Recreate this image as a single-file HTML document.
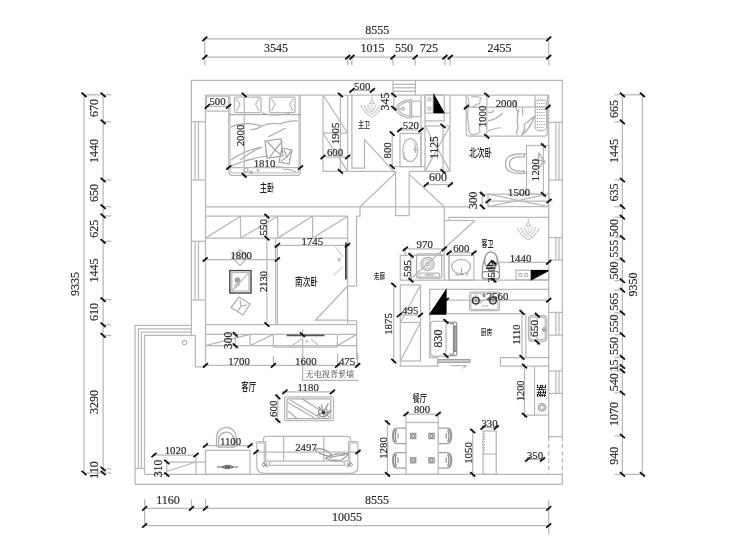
<!DOCTYPE html>
<html lang="zh"><head><meta charset="utf-8"><title>户型平面布置图</title>
<style>
html,body{margin:0;padding:0;background:#fff;}
body{width:740px;height:555px;overflow:hidden;}
svg{display:block;filter:blur(0.3px);}
svg line,svg path,svg rect,svg circle,svg ellipse{fill:none;stroke:#b8b8b8;stroke-width:1.25;}
svg .tk{stroke:#0c0c0c;stroke-width:1.75;}
svg text{stroke:none;}
svg text.n{font-family:"Liberation Serif",serif;fill:#2e2e2e;stroke:#2e2e2e;stroke-width:0.2;}
svg text.c{font-family:"Liberation Sans","Noto Sans CJK SC",sans-serif;fill:#222;font-weight:500;}
svg text.cb{font-family:"Liberation Sans","Noto Sans CJK SC",sans-serif;fill:#111;font-weight:700;}
svg text.c2{font-family:"Liberation Serif","Noto Serif CJK SC",serif;fill:#333;}
</style></head><body>
<svg width="740" height="555" viewBox="0 0 740 555">
<rect x="0" y="0" width="740" height="555" style="fill:#fff;stroke:none"/>
<line x1="204.8" y1="38.9" x2="548.7" y2="38.9"/>
<line x1="204.8" y1="57.2" x2="548.7" y2="57.2"/>
<line x1="204.8" y1="36.5" x2="204.8" y2="65.5"/>
<line x1="548.7" y1="36.5" x2="548.7" y2="65.5"/>
<line x1="347.7" y1="57.2" x2="347.7" y2="65.5"/>
<line x1="351.9" y1="57.2" x2="351.9" y2="65.5"/>
<line x1="392.9" y1="57.2" x2="392.9" y2="65.5"/>
<line x1="415.2" y1="57.2" x2="415.2" y2="65.5"/>
<line x1="444.8" y1="57.2" x2="444.8" y2="65.5"/>
<line x1="450.2" y1="57.2" x2="450.2" y2="65.5"/>
<line x1="144.6" y1="508.4" x2="548.7" y2="508.4"/>
<line x1="144.6" y1="525.5" x2="548.7" y2="525.5"/>
<line x1="144.6" y1="499" x2="144.6" y2="527.5"/>
<line x1="191.5" y1="499" x2="191.5" y2="510"/>
<line x1="205.5" y1="499" x2="205.5" y2="510"/>
<line x1="548.7" y1="500" x2="548.7" y2="534"/>
<line x1="84" y1="94.8" x2="84" y2="473"/>
<line x1="103.1" y1="94.8" x2="103.1" y2="473"/>
<line x1="103.1" y1="94.8" x2="111.3" y2="94.8"/>
<line x1="103.1" y1="121.8" x2="111.3" y2="121.8"/>
<line x1="103.1" y1="180" x2="111.3" y2="180"/>
<line x1="103.1" y1="206.7" x2="111.3" y2="206.7"/>
<line x1="103.1" y1="215.9" x2="111.3" y2="215.9"/>
<line x1="103.1" y1="241.3" x2="111.3" y2="241.3"/>
<line x1="103.1" y1="299.7" x2="111.3" y2="299.7"/>
<line x1="103.1" y1="324.8" x2="111.3" y2="324.8"/>
<line x1="103.1" y1="335.4" x2="111.3" y2="335.4"/>
<line x1="103.1" y1="469" x2="111.3" y2="469"/>
<line x1="103.1" y1="473" x2="111.3" y2="473"/>
<line x1="84" y1="94.8" x2="103.1" y2="94.8"/>
<line x1="84" y1="473" x2="103.1" y2="473"/>
<line x1="622.4" y1="94.8" x2="622.4" y2="474.4"/>
<line x1="642.4" y1="94.8" x2="642.4" y2="474.4"/>
<line x1="614.4" y1="94.8" x2="622.4" y2="94.8"/>
<line x1="614.4" y1="121.9" x2="622.4" y2="121.9"/>
<line x1="614.4" y1="180" x2="622.4" y2="180"/>
<line x1="614.4" y1="206.7" x2="622.4" y2="206.7"/>
<line x1="614.4" y1="217.2" x2="622.4" y2="217.2"/>
<line x1="614.4" y1="237.5" x2="622.4" y2="237.5"/>
<line x1="614.4" y1="259.9" x2="622.4" y2="259.9"/>
<line x1="614.4" y1="280.7" x2="622.4" y2="280.7"/>
<line x1="614.4" y1="290.1" x2="622.4" y2="290.1"/>
<line x1="614.4" y1="312.8" x2="622.4" y2="312.8"/>
<line x1="614.4" y1="334.6" x2="622.4" y2="334.6"/>
<line x1="614.4" y1="357.3" x2="622.4" y2="357.3"/>
<line x1="614.4" y1="366.5" x2="622.4" y2="366.5"/>
<line x1="614.4" y1="370.8" x2="622.4" y2="370.8"/>
<line x1="614.4" y1="393" x2="622.4" y2="393"/>
<line x1="614.4" y1="436" x2="622.4" y2="436"/>
<line x1="614.4" y1="474.4" x2="622.4" y2="474.4"/>
<line x1="622.4" y1="94.8" x2="642.4" y2="94.8"/>
<line x1="622.4" y1="474.4" x2="645" y2="474.4"/>
<path d="M191.4 335.4 L191.4 80.4 L562.3 80.4 L562.3 436.6"/>
<line x1="562.3" y1="436.6" x2="562.3" y2="474.3" stroke-dasharray="4.3 3"/>
<line x1="562.3" y1="474.3" x2="562.3" y2="484.3"/>
<line x1="135.1" y1="484.3" x2="562.3" y2="484.3"/>
<path d="M191.4 325.4 L135.1 325.4 L135.1 484.3"/>
<path d="M191.4 328.8 L138.4 328.8 L138.4 468.5"/>
<path d="M191.4 332.2 L141.4 332.2 L141.4 468.5"/>
<path d="M144.5 474.3 L144.5 335.4 L195.3 335.4 L195.3 366.9 L205.5 366.9"/>
<line x1="144.5" y1="474.3" x2="562.3" y2="474.3"/>
<line x1="135.1" y1="468.5" x2="144.5" y2="468.5"/>
<circle cx="184.5" cy="342.6" r="2.2"/>
<line x1="205.5" y1="95" x2="205.5" y2="366.9"/>
<line x1="191.4" y1="121.7" x2="205.5" y2="121.7"/>
<line x1="191.4" y1="180" x2="205.5" y2="180"/>
<line x1="195" y1="121.7" x2="195" y2="180"/>
<line x1="198.5" y1="121.7" x2="198.5" y2="180"/>
<line x1="191.4" y1="241.3" x2="205.5" y2="241.3"/>
<line x1="191.4" y1="300" x2="205.5" y2="300"/>
<line x1="195" y1="241.3" x2="195" y2="300"/>
<line x1="198.5" y1="241.3" x2="198.5" y2="300"/>
<line x1="205.5" y1="95" x2="347.5" y2="95"/>
<line x1="205.5" y1="206.75" x2="470" y2="206.75"/>
<path d="M205.5 96.2 H228.8 M206.5 96.2 V109.5 Q206.5 111 208.0 111 H227.3 Q228.8 111 228.8 109.5 V95"/>
<line x1="205.5" y1="106.4" x2="231" y2="106.4"/>
<path d="M228.8 95 V172 Q228.8 175.3 232 175.3 H297 Q300.2 175.3 300.2 172 V95"/>
<path d="M230 95 V170.5 Q230 172.8 232.5 172.8 H296.5 Q299 172.8 299 170.5 V95" style="stroke:#c5c5c5"/>
<rect x="234.5" y="97" width="26.5" height="15.5" rx="1"/>
<rect x="269.5" y="97" width="25.5" height="15.5" rx="1"/>
<path d="M236 98.5 L240 104 L236.5 111 M259.5 98.5 L255.5 104 L259 111 M271 98.5 L275 104 L271.5 111 M293.5 98.5 L289.5 104 L293 111" style="stroke:#bababa"/>
<path d="M228.8 114.5 H300.2 M262 112.5 Q270 117 290 113.5 M231 127 Q245 121 262 126 Q270 122 280 124 Q290 120 298 121 M262 126 Q258 129 250 130 M231 160 Q245 150 262 147 Q250 152 240 160 M231 166 Q250 158 268 156 M268 137 Q278 132 286 128" style="stroke:#aeaeae"/>
<path d="M265 141 L281 139 L283 156 L267 158 Z M267 141.5 L275 150 L282.5 141 M275 150 L270 157 M275 150 L281 155 M282 148 L292 150 L289 164 L279 162 Z M284 150 L287 157 L291 151 M287 157 L281 161" style="stroke:#a3a3a3"/>
<path d="M246 168 a2 2 0 1 0 0.1 0 M251 171 a1.2 1.2 0 1 0 0.1 0 M258 169.5 a0.8 0.8 0 1 0 0.1 0" style="stroke:#aeaeae"/>
<path d="M283 170 Q290 168 296 172 M270 168 Q278 165 284 168" style="stroke:#bababa"/>
<line x1="244.2" y1="92.5" x2="244.2" y2="178"/>
<line x1="226" y1="167.5" x2="302.5" y2="167.5"/>
<path d="M323 95 L323 171.4"/>
<line x1="347.6" y1="95" x2="347.6" y2="171.4"/>
<line x1="323" y1="133" x2="347.6" y2="133"/>
<line x1="323" y1="95" x2="347.6" y2="133"/>
<line x1="323" y1="133" x2="347.6" y2="171.4"/>
<line x1="340.4" y1="93" x2="340.4" y2="173"/>
<line x1="321" y1="157" x2="350" y2="157"/>
<line x1="347.6" y1="95" x2="425" y2="95"/>
<path d="M351.9 95 L351.9 168 L364.5 168 L364.5 139.5 L395.3 173.2"/>
<line x1="323" y1="171.4" x2="395.6" y2="171.4"/>
<line x1="350" y1="90.4" x2="375" y2="90.4"/>
<line x1="393" y1="84.3" x2="415.3" y2="84.3"/>
<line x1="393" y1="87.8" x2="415.3" y2="87.8"/>
<line x1="393" y1="91.3" x2="415.3" y2="91.3"/>
<line x1="393" y1="80.4" x2="393" y2="95"/>
<line x1="415.4" y1="80.4" x2="415.4" y2="95"/>
<line x1="393.8" y1="92" x2="393.8" y2="111"/>
<path d="M411.5 99.5 C404 99.5 398 103 394.5 108.7 C398 114.5 404 118 411.5 118 Z"/>
<path d="M410 101.5 C404.5 101.5 400 104.5 397.2 108.7 C400 113 404.5 116 410 116 Z" style="stroke:#bababa"/>
<rect x="411.5" y="101" width="9.5" height="15.5" rx="2"/>
<circle cx="403" cy="108.7" r="1.4"/>
<line x1="394.5" y1="108.7" x2="401.5" y2="108.7"/>
<path d="M371.8 95 V100 M369.40000000000003 103.6 L371.8 99.4 L374.2 103.6 Z M370.8 106 h2 M371.0 108.5 h1.6" style="stroke:#cccccc"/>
<path d="M367.6 104.5 Q368.20000000000005 107.5 368.776 107.44 Q369.49 109.75 370.414 110.1 Q370.6 111.5 371.8 111.5 Q373.0 111.5 373.18600000000004 110.1 Q374.11 109.75 374.824 107.44 Q375.4 107.5 376.0 104.5" style="stroke:#cccccc"/>
<path d="M364.2 104.8 Q364.8 107.8 366.32800000000003 108.74799999999999 Q367.62 111.85 369.29200000000003 112.32 Q370.6 114.2 371.8 114.2 Q373.0 114.2 374.308 112.32 Q375.98 111.85 377.272 108.74799999999999 Q378.8 107.8 379.40000000000003 104.8" style="stroke:#cccccc"/>
<path d="M360.8 105 Q361.40000000000003 108 363.88 110.04 Q365.75 114.0 368.17 114.6 Q370.6 117 371.8 117 Q373.0 117 375.43 114.6 Q377.85 114.0 379.72 110.04 Q382.2 108 382.8 105" style="stroke:#cccccc"/>
<rect x="400" y="133.4" width="21" height="33.2"/>
<ellipse cx="410.3" cy="150" rx="7.5" ry="11.5"/>
<path d="M414 143 q2.5 4 0 8 M417 150 h-3.5 M415.5 147 v6 M405 160 q-2 -3 -1 -8" style="stroke:#bababa"/>
<line x1="398" y1="130" x2="423.5" y2="130"/>
<line x1="392.2" y1="131" x2="392.2" y2="169"/>
<line x1="421" y1="95" x2="421" y2="166.6"/>
<line x1="425" y1="95" x2="425" y2="171.4"/>
<line x1="394.3" y1="166.6" x2="425" y2="166.6"/>
<line x1="409.2" y1="171.4" x2="450" y2="171.4"/>
<path d="M395.6 171.4 L395.6 215.6 L409.2 215.6 L409.2 171.4"/>
<line x1="395.3" y1="173.2" x2="360" y2="206.75"/>
<line x1="409.2" y1="174.4" x2="444.4" y2="206.75"/>
<line x1="425" y1="95" x2="450" y2="95"/>
<rect x="425" y="95" width="19.2" height="18.1"/>
<line x1="433.2" y1="95" x2="433.2" y2="113.1"/>
<line x1="444.2" y1="113.1" x2="450" y2="113.1"/>
<path d="M425 120.9 L444.2 120.9 L444.2 113.1"/>
<path d="M434.1 95.3 L434.1 112.7 L443.8 112.7 Z" style="stroke:#000;fill:#000"/>
<circle cx="429.4" cy="99.5" r="1.7"/>
<circle cx="429.4" cy="108.5" r="1.7"/>
<line x1="425" y1="126" x2="450" y2="126"/>
<line x1="450" y1="95" x2="450" y2="171.4"/>
<line x1="425" y1="126" x2="450" y2="171.4"/>
<line x1="450" y1="126" x2="425" y2="171.4"/>
<line x1="443" y1="124" x2="443" y2="173.5"/>
<line x1="424" y1="184.6" x2="453" y2="184.6"/>
<line x1="450" y1="95" x2="548.7" y2="95"/>
<line x1="548.7" y1="95" x2="548.7" y2="436.6"/>
<path d="M466.2 95 V133.5 Q466.2 136.1 469 136.1 H544.5 Q547.3 136.1 547.3 133.3 V95"/>
<line x1="535" y1="95" x2="535" y2="107.2"/>
<path d="M467.5 96.5 Q470 100 468.2 108 Q466.8 118 469 126 Q468 131 471 134.5 Q476 135.3 480 132 Q478 126 481.5 120 M471 97 Q476 96 481 98 Q479 101 480 104.5 M473 108 Q476 103 480 104" style="stroke:#bababa"/>
<path d="M487.5 112 Q492 114 494 110 M488 121 Q496 119.5 503 113 M488 131 Q494 128.5 500.5 127.5 M514 100 Q517 104 516 108 Q519 112 517 116 M518.5 110 Q516.5 120 518 128 Q516 132 517 134.5 M522.3 108 Q523 112 522.5 115.5 M535 115 Q531 128 520.8 136 M524 124.5 Q528 122 533.5 117 M524 124.5 Q526 130 522 134" style="stroke:#aeaeae"/>
<rect x="535.2" y="100" width="11.4" height="30.5" rx="3.8"/>
<path d="M537 103.5 h8 M537 106.5 h8 M537 109.5 h8 M537 112.5 h8 M537 115.5 h8 M537 118.5 h8 M537 121.5 h8 M537 124.5 h8 M537 127.5 h7" style="stroke:#888;stroke-width:1" stroke-dasharray="1 1.2"/>
<line x1="464" y1="107.2" x2="551" y2="107.2"/>
<line x1="486.8" y1="93" x2="486.8" y2="138.5"/>
<rect x="526.5" y="145.5" width="22.2" height="48.9"/>
<path d="M526.5 154 H524.5 Q505.5 152.5 505.5 164 Q505.5 175 524.5 173.2 H526.5 M524.5 157 Q509.6 155.5 509.6 164 Q509.6 172.5 524.5 171 M524.3 154 V157 M524.3 171 V173.2" style="stroke:#a9a9a9"/>
<path d="M535.5 160.3 H543.6 M538.7 152.5 L543.6 160.3 L538.7 169 M538.7 152.5 V169" style="stroke:#aeaeae"/>
<circle cx="543.8" cy="161.8" r="1.3" style="stroke:#aeaeae"/>
<line x1="543.4" y1="143" x2="543.4" y2="197"/>
<rect x="488" y="194.2" width="60.7" height="12.4"/>
<line x1="488" y1="194.2" x2="548.7" y2="206.6"/>
<line x1="488" y1="206.6" x2="548.7" y2="194.2"/>
<line x1="485" y1="201" x2="552.5" y2="201"/>
<line x1="482.3" y1="191.5" x2="482.3" y2="209.5"/>
<line x1="480" y1="194.2" x2="488" y2="194.2"/>
<line x1="548.7" y1="122.3" x2="562.3" y2="122.3"/>
<line x1="548.7" y1="180" x2="562.3" y2="180"/>
<line x1="555.9" y1="122.3" x2="555.9" y2="180"/>
<line x1="559" y1="122.3" x2="559" y2="180"/>
<line x1="205.5" y1="216.2" x2="347.6" y2="216.2"/>
<line x1="205.5" y1="238.1" x2="347.6" y2="238.1"/>
<line x1="240.5" y1="216.2" x2="240.5" y2="238.1"/>
<line x1="277.7" y1="216.2" x2="277.7" y2="238.1"/>
<line x1="312.6" y1="216.2" x2="312.6" y2="238.1"/>
<line x1="205.5" y1="238.1" x2="240.5" y2="216.2"/>
<line x1="240.5" y1="238.1" x2="277.7" y2="216.2"/>
<line x1="277.7" y1="238.1" x2="312.6" y2="216.2"/>
<line x1="312.6" y1="238.1" x2="347.6" y2="216.2"/>
<line x1="347.6" y1="216.2" x2="347.6" y2="324.5"/>
<path d="M360 206.75 L360 216.2 L356.5 216.2 L356.5 286 L347.6 286"/>
<line x1="205.5" y1="324.5" x2="347.6" y2="324.5"/>
<line x1="266.9" y1="214.2" x2="266.9" y2="326.5"/>
<line x1="275.6" y1="238.1" x2="275.6" y2="324.5"/>
<line x1="277.4" y1="245.3" x2="277.4" y2="324.5"/>
<line x1="273.5" y1="245.3" x2="350.5" y2="245.3"/>
<line x1="202.5" y1="259.5" x2="280.5" y2="259.5"/>
<rect x="229.8" y="270.6" width="21.2" height="22.4" style="stroke:#444;stroke-width:1.4"/>
<rect x="231.8" y="272.6" width="17.2" height="18.4" style="stroke:#bababa"/>
<line x1="231.8" y1="291" x2="249" y2="272.6" style="stroke:#bababa"/>
<circle cx="237.5" cy="280" r="2.2" style="stroke:#979797"/>
<circle cx="237.5" cy="280" r="0.8" style="stroke:#979797"/>
<path d="M234 286 l5 -4 M235 288 l5 -4" style="stroke:#bababa"/>
<path d="M240 249.5 L248 257.5 L240 265.5 L232 257.5 Z M236 253.5 L240 259 L244 253.5" style="stroke:#bababa"/>
<path d="M239 297 L250 304 L243 315 L231 307.5 Z M240 300 L241 306 L247 305 M241 306 L238 311" style="stroke:#aeaeae"/>
<line x1="345.9" y1="242.5" x2="345.9" y2="279.5" style="stroke:#444;stroke-width:1.8"/>
<path d="M334.5 245.5 L343 257 M343 266.6 L333.2 275.5" style="stroke:#d1d1d1"/>
<path d="M338.2 258 v2 q0 1 1 1 q1 0 1 -1 v-2" style="stroke:#777;stroke-width:0.7"/>
<path d="M347.6 286 L315.4 320.2 L347.6 320.2"/>
<line x1="205.5" y1="334.4" x2="356.7" y2="334.4"/>
<line x1="205.5" y1="345.6" x2="356.7" y2="345.6"/>
<line x1="356.7" y1="320.8" x2="356.7" y2="360"/>
<line x1="347.6" y1="320.8" x2="356.7" y2="320.8"/>
<line x1="347.6" y1="324.5" x2="356.7" y2="324.5"/>
<line x1="250" y1="334.4" x2="250" y2="345.6"/>
<line x1="273.4" y1="334.4" x2="273.4" y2="347.2"/>
<line x1="337.4" y1="334.4" x2="337.4" y2="347.2"/>
<line x1="273.4" y1="347.2" x2="337.4" y2="347.2"/>
<line x1="205.5" y1="345.6" x2="250" y2="334.4"/>
<line x1="250" y1="345.6" x2="273.4" y2="334.4"/>
<line x1="337.4" y1="345.6" x2="356.7" y2="334.4"/>
<line x1="286.6" y1="335.4" x2="324.5" y2="335.4" style="stroke:#555;stroke-width:1.9"/>
<path d="M290 347 L301.5 339 M311 339 L320.4 347" style="stroke:#c5c5c5"/>
<path d="M306 340 v1.6 q0 0.8 0.8 0.8 q0.8 0 0.8 -0.8 v-1.6" style="stroke:#888;stroke-width:0.6"/>
<line x1="235.3" y1="332" x2="235.3" y2="349"/>
<line x1="203" y1="365.4" x2="360.5" y2="365.4"/>
<line x1="273.4" y1="356" x2="273.4" y2="367"/>
<line x1="337.6" y1="353" x2="337.6" y2="367"/>
<line x1="357.6" y1="353" x2="357.6" y2="367"/>
<path d="M302.6 329 L302.6 380.3 L358.5 380.3"/>
<rect x="284.6" y="396.9" width="48.9" height="23.6" rx="1.2"/>
<rect x="286.9" y="398.9" width="43.9" height="19.6" rx="0.5" style="stroke:#aeaeae"/>
<path d="M287.6 402.3 L316.6 419.2 M290.3 400.3 L320 417.8 M302.4 398.9 L321.4 411 M288.2 411 L297 418.5" style="stroke:#aeaeae"/>
<path d="M323.4 412.4 l5 -9 M323.4 412.4 l7.5 -1 M323.4 412.4 l-5 -6 M323.4 412.4 l-6.5 3 M323.4 412.4 l1 6.5 M323.4 412.4 l6 4.5 M323.4 412.4 l-2 -8 M320 409 a4.5 4.5 0 1 0 6 0 M326 415 q3 -1 4 -5" style="stroke:#979797"/>
<circle cx="323.4" cy="412.4" r="1.1" style="stroke:#222;stroke-width:1.2"/>
<line x1="282" y1="391.9" x2="335" y2="391.9"/>
<line x1="277.8" y1="394" x2="277.8" y2="423.5"/>
<path d="M216.5 447 V437.2 A9.8 9.8 0 0 1 236.1 437.2 V447 M218.6 447 V439.9 A7.7 7.7 0 0 1 234 439.9 V447 M217.5 447 H235" style="stroke:#aeaeae"/>
<rect x="205.5" y="450.3" width="44.5" height="24.0"/>
<line x1="203" y1="445.5" x2="253" y2="445.5"/>
<path d="M217 467 H238 M222 467 Q227.5 463.5 233 467 Q227.5 470.5 222 467 Z M225 467 Q227.5 465.3 230 467 Q227.5 468.7 225 467" style="stroke:#444;stroke-width:0.8"/>
<path d="M166.5 462 L205.5 462"/>
<line x1="196" y1="455" x2="196" y2="474.3"/>
<line x1="166.5" y1="471.5" x2="196" y2="462"/>
<line x1="152" y1="455" x2="198.5" y2="455"/>
<line x1="166.8" y1="459.5" x2="166.8" y2="477"/>
<path d="M263.5 441.7 V439 Q263.5 436.4 266 436.4 H348 Q350.5 436.4 350.5 439 V441.7"/>
<line x1="283.6" y1="436.4" x2="283.6" y2="461"/>
<line x1="323.8" y1="436.4" x2="323.8" y2="461"/>
<path d="M256.8 441.7 H265.7 V462.3 M357.8 441.7 H348.6 V462.3 M256.8 441.7 V466 Q256.8 473.4 264.5 473.4 H350 Q357.8 473.4 357.8 466 V441.7"/>
<path d="M258.3 443 H264.3 V462 M356.3 443 H350 V462" style="stroke:#c5c5c5"/>
<path d="M265.7 461 H271 M348.6 461 H343.5 M269 465.3 Q269.5 461 273 461 H341 Q344.5 461 345 465.3 Z M265.7 462.3 Q262 462.3 262 466 M348.6 462.3 Q352.5 462.3 352.5 466"/>
<path d="M263 466.5 l4.5 -3 M263.5 462.5 l4 4.5 M351.5 466.5 l-4.5 -3 M351 462.5 l-4 4.5" style="stroke:#979797"/>
<path d="M314.5 449.3 Q322 447.5 328 451.5 Q331 454 331.5 456 Q325 456.5 320 453.5 Q316 451 314.5 449.3 M325.4 458.5 Q333 453.5 341 454 Q345.5 453.5 348 453.8 Q346 458 341 460 Q333 461.5 325.4 458.5 M329 458 Q336 455.5 345 455" style="stroke:#979797"/>
<line x1="254" y1="452" x2="360.5" y2="452"/>
<line x1="444.3" y1="206.75" x2="444.3" y2="255.3"/>
<rect x="400.3" y="255.3" width="44.0" height="24.9"/>
<rect x="416.6" y="253.8" width="25.2" height="24.2" rx="2" style="stroke:#aeaeae"/>
<circle cx="427.5" cy="264" r="6.6" style="stroke:#aeaeae"/>
<circle cx="427.5" cy="264" r="4.6" style="stroke:#bababa"/>
<circle cx="427.5" cy="264" r="2" style="stroke:#bababa"/>
<rect x="419" y="273" width="20.5" height="4" rx="1" style="stroke:#bababa"/>
<line x1="425" y1="275" x2="434" y2="275" style="stroke:#a3a3a3"/>
<line x1="403" y1="248.8" x2="447" y2="248.8"/>
<line x1="411" y1="253" x2="411" y2="282.5"/>
<line x1="405.3" y1="248.8" x2="405.3" y2="255.3"/>
<line x1="449" y1="217.3" x2="548.7" y2="217.3"/>
<line x1="449" y1="217.3" x2="449" y2="220.5"/>
<line x1="444.3" y1="220.5" x2="475" y2="220.5"/>
<line x1="475" y1="220.5" x2="410" y2="279.5"/>
<line x1="449" y1="252.8" x2="449" y2="280.2"/>
<line x1="444.3" y1="280.2" x2="548.7" y2="280.2"/>
<rect x="449" y="255.3" width="24.9" height="24.9"/>
<ellipse cx="461.2" cy="266.6" rx="9.4" ry="7.3"/>
<path d="M461.5 268 v6.5 M459 274.5 h5 M466 275.5 l2 -2.5 M455.5 274 q1.5 2.5 3 0" style="stroke:#aeaeae"/>
<line x1="447" y1="252.8" x2="476.5" y2="252.8"/>
<ellipse cx="491" cy="260.5" rx="6.4" ry="8.6" style="stroke:#8b8b8b"/>
<path d="M484.8 258 Q482.3 264 482.3 271.8 M497.2 258 Q499.5 264 499.5 271.8" style="stroke:#979797"/>
<rect x="482.2" y="271.6" width="17.2" height="7.2" rx="2.2" style="stroke:#8b8b8b"/>
<path d="M487.5 265.5 l3.5 -4 l3.5 4 Z M486 268.3 h9.5" style="stroke:#222;stroke-width:1.3"/>
<line x1="493.8" y1="260" x2="493.8" y2="283"/>
<line x1="493.8" y1="262.3" x2="551" y2="262.3"/>
<path d="M528.3 217.6 V222.6 M525.9 226.2 L528.3 222.0 L530.6999999999999 226.2 Z M527.3 228.6 h2 M527.5 231.1 h1.6" style="stroke:#cccccc"/>
<path d="M524.0999999999999 227.1 Q524.6999999999999 230.1 525.276 230.04 Q525.99 232.35 526.914 232.7 Q527.0999999999999 234.1 528.3 234.1 Q529.5 234.1 529.6859999999999 232.7 Q530.6099999999999 232.35 531.324 230.04 Q531.9 230.1 532.5 227.1" style="stroke:#cccccc"/>
<path d="M520.6999999999999 227.4 Q521.3 230.4 522.828 231.348 Q524.12 234.45000000000002 525.7919999999999 234.92000000000002 Q527.0999999999999 236.79999999999998 528.3 236.79999999999998 Q529.5 236.79999999999998 530.808 234.92000000000002 Q532.4799999999999 234.45000000000002 533.7719999999999 231.348 Q535.3 230.4 535.9 227.4" style="stroke:#cccccc"/>
<path d="M517.3 227.6 Q517.9 230.6 520.38 232.64 Q522.25 236.6 524.67 237.2 Q527.0999999999999 239.6 528.3 239.6 Q529.5 239.6 531.93 237.2 Q534.3499999999999 236.6 536.2199999999999 232.64 Q538.6999999999999 230.6 539.3 227.6" style="stroke:#cccccc"/>
<rect x="516" y="270.3" width="32.7" height="9.5"/>
<path d="M531.3 270.6 L548.2 270.6 L531.3 279.6 Z" style="stroke:#000;fill:#000"/>
<circle cx="520.3" cy="275" r="1.6"/>
<circle cx="526.2" cy="275" r="1.6"/>
<line x1="548.7" y1="237.5" x2="562.3" y2="237.5"/>
<line x1="548.7" y1="260" x2="562.3" y2="260"/>
<line x1="555.9" y1="237.5" x2="555.9" y2="260"/>
<line x1="559" y1="237.5" x2="559" y2="260"/>
<path d="M548.7 289.4 L429.7 289.4 L429.7 357.5 L437.8 357.5"/>
<path d="M446 290.3 L446 314 L430 314 Z" style="stroke:#000;fill:#000"/>
<line x1="446" y1="300.2" x2="550.7" y2="300.2"/>
<line x1="446" y1="313.5" x2="525.8" y2="313.5"/>
<line x1="525.8" y1="313.5" x2="525.8" y2="357.4" style="stroke:#bababa"/>
<rect x="469.5" y="292.2" width="30.0" height="18.3" rx="2"/>
<rect x="471" y="293.5" width="27" height="15.8" rx="1.5" style="stroke:#c5c5c5"/>
<circle cx="475.8" cy="300.6" r="3.3" style="stroke:#333;stroke-width:1.5"/>
<circle cx="493" cy="300.6" r="3.3" style="stroke:#333;stroke-width:1.5"/>
<circle cx="475.8" cy="300.6" r="1" style="stroke:#979797"/>
<circle cx="493" cy="300.6" r="1" style="stroke:#979797"/>
<path d="M472 300.6 h-1 M480 300.6 h1 M475.8 296 v-0.8 M475.8 305 v0.8 M489 300.6 h-1 M497 300.6 h1" style="stroke:#8b8b8b"/>
<path d="M482.5 306 h0.9 M484.6 306 h0.9 M486.7 306 h0.9" style="stroke:#333;stroke-width:1"/>
<circle cx="484" cy="295.4" r="1.1" style="stroke:#808080"/>
<path d="M479 304 L489 297" style="stroke:#c5c5c5"/>
<path d="M446 321.3 H433.5 Q430.7 321.3 430.7 324.3 V353.3 Q430.7 356.2 433.5 356.2 H446"/>
<path d="M446 322 H455 Q456.8 322 456.8 324 V353.5 Q456.8 355.5 455 355.5 H446 M449.5 323.5 H453.5 V354 H449.5" style="stroke:#979797"/>
<path d="M454.3 326 h1.6 v25.5 h-1.6 Z" style="stroke:#666;stroke-width:0.9"/>
<line x1="446" y1="319" x2="446" y2="358.5"/>
<rect x="437.8" y="359.6" width="32.2" height="2.8" style="stroke:#999;stroke-width:1;fill:#ccc"/>
<path d="M450.5 365.5 H466 l-3 2.7" style="stroke:#bababa"/>
<rect x="400.3" y="285" width="20.2" height="76"/>
<line x1="400.3" y1="322.5" x2="420.5" y2="322.5"/>
<line x1="420.5" y1="285" x2="400.3" y2="322.5"/>
<line x1="420.5" y1="322.5" x2="400.3" y2="361"/>
<line x1="398" y1="315" x2="423" y2="315"/>
<line x1="393.7" y1="282.5" x2="393.7" y2="363.5"/>
<path d="M400.3 361 L400.3 366 L437.8 366 L437.8 357.5"/>
<rect x="528.5" y="315.5" width="18.3" height="25.8" rx="3"/>
<rect x="530.1" y="317.2" width="15.1" height="22.4" rx="2.2" style="stroke:#bababa"/>
<path d="M544 326.5 v5 M541.8 328.5 l2.2 3 l2.2 -3" style="stroke:#979797"/>
<line x1="537.3" y1="312.5" x2="537.3" y2="345"/>
<line x1="522" y1="309.5" x2="522" y2="360"/>
<line x1="548.7" y1="312.4" x2="562.3" y2="312.4"/>
<line x1="548.7" y1="335.1" x2="562.3" y2="335.1"/>
<line x1="555.9" y1="312.4" x2="555.9" y2="335.1"/>
<line x1="559" y1="312.4" x2="559" y2="335.1"/>
<path d="M522.3 357.5 L500.4 357.5 L500.4 366 L548.7 366"/>
<line x1="522.3" y1="357.5" x2="548.7" y2="357.5"/>
<path d="M534.5 366.1 L534.5 415.2 L548.7 415.2"/>
<line x1="524.5" y1="363.5" x2="524.5" y2="418"/>
<line x1="524.5" y1="415.2" x2="534.5" y2="415.2"/>
<line x1="548.7" y1="371" x2="562.3" y2="371"/>
<line x1="548.7" y1="393.4" x2="562.3" y2="393.4"/>
<line x1="555.9" y1="371" x2="555.9" y2="393.4"/>
<line x1="559" y1="371" x2="559" y2="393.4"/>
<circle cx="542" cy="407.4" r="3.8" style="stroke:#a3a3a3"/>
<circle cx="542" cy="407.4" r="2.2" style="stroke:#aeaeae"/>
<line x1="548.7" y1="436.6" x2="562.3" y2="436.6"/>
<line x1="548.7" y1="436.6" x2="548.7" y2="474.3" stroke-dasharray="4.3 3"/>
<line x1="525.5" y1="459.5" x2="545" y2="459.5"/>
<rect x="406" y="422.5" width="32.2" height="51.8"/>
<line x1="404" y1="414" x2="441" y2="414"/>
<line x1="406" y1="414" x2="406" y2="422.5"/>
<line x1="438.2" y1="414" x2="438.2" y2="422.5"/>
<line x1="387.5" y1="420" x2="387.5" y2="477"/>
<rect x="410.59999999999997" y="433.4" width="5.2" height="5.2" style="stroke:#979797"/>
<circle cx="413.2" cy="436" r="1.5" style="stroke:#8b8b8b"/>
<rect x="428.9" y="433.4" width="5.2" height="5.2" style="stroke:#979797"/>
<circle cx="431.5" cy="436" r="1.5" style="stroke:#8b8b8b"/>
<rect x="410.59999999999997" y="457.7" width="5.2" height="5.2" style="stroke:#979797"/>
<circle cx="413.2" cy="460.3" r="1.5" style="stroke:#8b8b8b"/>
<rect x="428.9" y="457.7" width="5.2" height="5.2" style="stroke:#979797"/>
<circle cx="431.5" cy="460.3" r="1.5" style="stroke:#8b8b8b"/>
<path d="M406 428 H397 Q392.5 428 392.5 435.8 Q392.5 443.6 397 443.6 H406" style="stroke:#a3a3a3"/>
<path d="M396.5 429.5 Q394 435.8 396.5 442.1 M395.2 428.8 Q391.2 435.8 395.2 442.8" style="stroke:#8b8b8b"/>
<path d="M398 433 v5.6" style="stroke:#979797"/>
<path d="M406 452.5 H397 Q392.5 452.5 392.5 460.3 Q392.5 468.1 397 468.1 H406" style="stroke:#a3a3a3"/>
<path d="M396.5 454.0 Q394 460.3 396.5 466.6 M395.2 453.3 Q391.2 460.3 395.2 467.3" style="stroke:#8b8b8b"/>
<path d="M398 457.5 v5.6" style="stroke:#979797"/>
<path d="M438.2 428 H447.2 Q451.7 428 451.7 435.8 Q451.7 443.6 447.2 443.6 H438.2" style="stroke:#a3a3a3"/>
<path d="M447.7 429.5 Q450.2 435.8 447.7 442.1 M449.0 428.8 Q453.0 435.8 449.0 442.8" style="stroke:#8b8b8b"/>
<path d="M446.2 433 v5.6" style="stroke:#979797"/>
<path d="M438.2 452.5 H447.2 Q451.7 452.5 451.7 460.3 Q451.7 468.1 447.2 468.1 H438.2" style="stroke:#a3a3a3"/>
<path d="M447.7 454.0 Q450.2 460.3 447.7 466.6 M449.0 453.3 Q453.0 460.3 449.0 467.3" style="stroke:#8b8b8b"/>
<path d="M446.2 457.5 v5.6" style="stroke:#979797"/>
<rect x="483" y="431" width="13.2" height="43.3"/>
<line x1="483" y1="454" x2="496.2" y2="454"/>
<path d="M484.5 433 V452" style="stroke:#aeaeae" stroke-dasharray="1.4 1.4" stroke-width="1.6"/>
<line x1="481" y1="427.5" x2="499" y2="427.5"/>
<line x1="472.7" y1="428.5" x2="472.7" y2="477"/>
<line class="tk" x1="202.3" y1="41.1" x2="207.3" y2="36.7"/>
<line class="tk" x1="546.2" y1="41.1" x2="551.2" y2="36.7"/>
<line class="tk" x1="202.3" y1="59.4" x2="207.3" y2="55.0"/>
<line class="tk" x1="345.2" y1="59.4" x2="350.2" y2="55.0"/>
<line class="tk" x1="349.4" y1="59.4" x2="354.4" y2="55.0"/>
<line class="tk" x1="390.4" y1="59.4" x2="395.4" y2="55.0"/>
<line class="tk" x1="412.7" y1="59.4" x2="417.7" y2="55.0"/>
<line class="tk" x1="442.3" y1="59.4" x2="447.3" y2="55.0"/>
<line class="tk" x1="447.7" y1="59.4" x2="452.7" y2="55.0"/>
<line class="tk" x1="546.2" y1="59.4" x2="551.2" y2="55.0"/>
<line class="tk" x1="142.1" y1="510.6" x2="147.1" y2="506.2"/>
<line class="tk" x1="189.0" y1="510.6" x2="194.0" y2="506.2"/>
<line class="tk" x1="203.0" y1="510.6" x2="208.0" y2="506.2"/>
<line class="tk" x1="546.2" y1="510.6" x2="551.2" y2="506.2"/>
<line class="tk" x1="142.1" y1="527.7" x2="147.1" y2="523.3"/>
<line class="tk" x1="546.2" y1="527.7" x2="551.2" y2="523.3"/>
<line class="tk" x1="81.5" y1="92.6" x2="86.5" y2="97.0"/>
<line class="tk" x1="81.5" y1="470.8" x2="86.5" y2="475.2"/>
<line class="tk" x1="100.6" y1="92.6" x2="105.6" y2="97.0"/>
<line class="tk" x1="100.6" y1="119.6" x2="105.6" y2="124.0"/>
<line class="tk" x1="100.6" y1="177.8" x2="105.6" y2="182.2"/>
<line class="tk" x1="100.6" y1="204.5" x2="105.6" y2="208.9"/>
<line class="tk" x1="100.6" y1="213.7" x2="105.6" y2="218.1"/>
<line class="tk" x1="100.6" y1="239.1" x2="105.6" y2="243.5"/>
<line class="tk" x1="100.6" y1="297.5" x2="105.6" y2="301.9"/>
<line class="tk" x1="100.6" y1="322.6" x2="105.6" y2="327.0"/>
<line class="tk" x1="100.6" y1="333.2" x2="105.6" y2="337.6"/>
<line class="tk" x1="100.6" y1="466.8" x2="105.6" y2="471.2"/>
<line class="tk" x1="100.6" y1="470.8" x2="105.6" y2="475.2"/>
<line class="tk" x1="639.9" y1="92.6" x2="644.9" y2="97.0"/>
<line class="tk" x1="639.9" y1="472.2" x2="644.9" y2="476.6"/>
<line class="tk" x1="619.9" y1="92.6" x2="624.9" y2="97.0"/>
<line class="tk" x1="619.9" y1="119.7" x2="624.9" y2="124.1"/>
<line class="tk" x1="619.9" y1="177.8" x2="624.9" y2="182.2"/>
<line class="tk" x1="619.9" y1="204.5" x2="624.9" y2="208.9"/>
<line class="tk" x1="619.9" y1="215.0" x2="624.9" y2="219.4"/>
<line class="tk" x1="619.9" y1="235.3" x2="624.9" y2="239.7"/>
<line class="tk" x1="619.9" y1="257.7" x2="624.9" y2="262.1"/>
<line class="tk" x1="619.9" y1="278.5" x2="624.9" y2="282.9"/>
<line class="tk" x1="619.9" y1="287.9" x2="624.9" y2="292.3"/>
<line class="tk" x1="619.9" y1="310.6" x2="624.9" y2="315.0"/>
<line class="tk" x1="619.9" y1="332.4" x2="624.9" y2="336.8"/>
<line class="tk" x1="619.9" y1="355.1" x2="624.9" y2="359.5"/>
<line class="tk" x1="619.9" y1="364.3" x2="624.9" y2="368.7"/>
<line class="tk" x1="619.9" y1="368.6" x2="624.9" y2="373.0"/>
<line class="tk" x1="619.9" y1="390.8" x2="624.9" y2="395.2"/>
<line class="tk" x1="619.9" y1="433.8" x2="624.9" y2="438.2"/>
<line class="tk" x1="619.9" y1="472.2" x2="624.9" y2="476.6"/>
<line class="tk" x1="204.8" y1="108.6" x2="209.8" y2="104.2"/>
<line class="tk" x1="226.0" y1="108.6" x2="231.0" y2="104.2"/>
<line class="tk" x1="241.7" y1="92.8" x2="246.7" y2="97.2"/>
<line class="tk" x1="241.7" y1="173.1" x2="246.7" y2="177.5"/>
<line class="tk" x1="226.3" y1="169.7" x2="231.3" y2="165.3"/>
<line class="tk" x1="298.0" y1="169.7" x2="303.0" y2="165.3"/>
<line class="tk" x1="337.9" y1="92.8" x2="342.9" y2="97.2"/>
<line class="tk" x1="337.9" y1="169.2" x2="342.9" y2="173.6"/>
<line class="tk" x1="320.5" y1="159.2" x2="325.5" y2="154.8"/>
<line class="tk" x1="345.1" y1="159.2" x2="350.1" y2="154.8"/>
<line class="tk" x1="349.4" y1="92.6" x2="354.4" y2="88.2"/>
<line class="tk" x1="369.9" y1="92.6" x2="374.9" y2="88.2"/>
<line class="tk" x1="391.3" y1="92.8" x2="396.3" y2="97.2"/>
<line class="tk" x1="391.3" y1="106.0" x2="396.3" y2="110.4"/>
<line class="tk" x1="397.2" y1="132.2" x2="402.2" y2="127.8"/>
<line class="tk" x1="418.5" y1="132.2" x2="423.5" y2="127.8"/>
<line class="tk" x1="389.7" y1="131.4" x2="394.7" y2="135.8"/>
<line class="tk" x1="389.7" y1="164.4" x2="394.7" y2="168.8"/>
<line class="tk" x1="440.5" y1="123.8" x2="445.5" y2="128.2"/>
<line class="tk" x1="440.5" y1="169.2" x2="445.5" y2="173.6"/>
<line class="tk" x1="423.7" y1="186.8" x2="428.7" y2="182.4"/>
<line class="tk" x1="447.8" y1="186.8" x2="452.8" y2="182.4"/>
<line class="tk" x1="463.9" y1="109.4" x2="468.9" y2="105.0"/>
<line class="tk" x1="545.5" y1="109.4" x2="550.5" y2="105.0"/>
<line class="tk" x1="484.3" y1="92.8" x2="489.3" y2="97.2"/>
<line class="tk" x1="484.3" y1="134.1" x2="489.3" y2="138.5"/>
<line class="tk" x1="540.9" y1="143.3" x2="545.9" y2="147.7"/>
<line class="tk" x1="540.9" y1="192.2" x2="545.9" y2="196.6"/>
<line class="tk" x1="485.7" y1="203.2" x2="490.7" y2="198.8"/>
<line class="tk" x1="546.5" y1="203.2" x2="551.5" y2="198.8"/>
<line class="tk" x1="479.8" y1="192.0" x2="484.8" y2="196.4"/>
<line class="tk" x1="479.8" y1="204.6" x2="484.8" y2="209.0"/>
<line class="tk" x1="264.4" y1="214.0" x2="269.4" y2="218.4"/>
<line class="tk" x1="264.4" y1="235.9" x2="269.4" y2="240.3"/>
<line class="tk" x1="264.4" y1="322.3" x2="269.4" y2="326.7"/>
<line class="tk" x1="274.9" y1="247.5" x2="279.9" y2="243.1"/>
<line class="tk" x1="344.9" y1="247.5" x2="349.9" y2="243.1"/>
<line class="tk" x1="202.7" y1="261.7" x2="207.7" y2="257.3"/>
<line class="tk" x1="274.8" y1="261.7" x2="279.8" y2="257.3"/>
<line class="tk" x1="232.8" y1="332.2" x2="237.8" y2="336.6"/>
<line class="tk" x1="232.8" y1="343.4" x2="237.8" y2="347.8"/>
<line class="tk" x1="203.0" y1="367.6" x2="208.0" y2="363.2"/>
<line class="tk" x1="270.9" y1="367.6" x2="275.9" y2="363.2"/>
<line class="tk" x1="335.1" y1="367.6" x2="340.1" y2="363.2"/>
<line class="tk" x1="355.1" y1="367.6" x2="360.1" y2="363.2"/>
<line class="tk" x1="299.9" y1="332.4" x2="304.9" y2="336.8"/>
<line class="tk" x1="282.4" y1="394.1" x2="287.4" y2="389.7"/>
<line class="tk" x1="329.9" y1="394.1" x2="334.9" y2="389.7"/>
<line class="tk" x1="275.3" y1="394.7" x2="280.3" y2="399.1"/>
<line class="tk" x1="275.3" y1="418.3" x2="280.3" y2="422.7"/>
<line class="tk" x1="203.0" y1="447.7" x2="208.0" y2="443.3"/>
<line class="tk" x1="247.5" y1="447.7" x2="252.5" y2="443.3"/>
<line class="tk" x1="151.5" y1="457.2" x2="156.5" y2="452.8"/>
<line class="tk" x1="193.5" y1="457.2" x2="198.5" y2="452.8"/>
<line class="tk" x1="164.3" y1="459.8" x2="169.3" y2="464.2"/>
<line class="tk" x1="164.3" y1="472.3" x2="169.3" y2="476.7"/>
<line class="tk" x1="253.5" y1="454.2" x2="258.5" y2="449.8"/>
<line class="tk" x1="355.5" y1="454.2" x2="360.5" y2="449.8"/>
<line class="tk" x1="402.8" y1="251.0" x2="407.8" y2="246.6"/>
<line class="tk" x1="441.8" y1="251.0" x2="446.8" y2="246.6"/>
<line class="tk" x1="408.5" y1="253.1" x2="413.5" y2="257.5"/>
<line class="tk" x1="408.5" y1="278.0" x2="413.5" y2="282.4"/>
<line class="tk" x1="446.5" y1="255.0" x2="451.5" y2="250.6"/>
<line class="tk" x1="471.4" y1="255.0" x2="476.4" y2="250.6"/>
<line class="tk" x1="491.3" y1="260.1" x2="496.3" y2="264.5"/>
<line class="tk" x1="491.3" y1="278.0" x2="496.3" y2="282.4"/>
<line class="tk" x1="546.2" y1="264.5" x2="551.2" y2="260.1"/>
<line class="tk" x1="546.2" y1="302.4" x2="551.2" y2="298.0"/>
<line class="tk" x1="443.8" y1="302.4" x2="448.8" y2="298.0"/>
<line class="tk" x1="443.5" y1="319.1" x2="448.5" y2="323.5"/>
<line class="tk" x1="443.5" y1="353.4" x2="448.5" y2="357.8"/>
<line class="tk" x1="396.9" y1="317.2" x2="401.9" y2="312.8"/>
<line class="tk" x1="418.0" y1="317.2" x2="423.0" y2="312.8"/>
<line class="tk" x1="391.2" y1="282.8" x2="396.2" y2="287.2"/>
<line class="tk" x1="391.2" y1="358.8" x2="396.2" y2="363.2"/>
<line class="tk" x1="534.8" y1="313.0" x2="539.8" y2="317.4"/>
<line class="tk" x1="534.8" y1="339.9" x2="539.8" y2="344.3"/>
<line class="tk" x1="519.5" y1="310.2" x2="524.5" y2="314.6"/>
<line class="tk" x1="519.5" y1="355.2" x2="524.5" y2="359.6"/>
<line class="tk" x1="522.0" y1="363.9" x2="527.0" y2="368.3"/>
<line class="tk" x1="522.0" y1="413.0" x2="527.0" y2="417.4"/>
<line class="tk" x1="525.1" y1="461.7" x2="530.1" y2="457.3"/>
<line class="tk" x1="540.0" y1="461.7" x2="545.0" y2="457.3"/>
<line class="tk" x1="403.5" y1="416.2" x2="408.5" y2="411.8"/>
<line class="tk" x1="435.7" y1="416.2" x2="440.7" y2="411.8"/>
<line class="tk" x1="385.0" y1="420.3" x2="390.0" y2="424.7"/>
<line class="tk" x1="385.0" y1="472.1" x2="390.0" y2="476.5"/>
<line class="tk" x1="480.5" y1="429.7" x2="485.5" y2="425.3"/>
<line class="tk" x1="493.7" y1="429.7" x2="498.7" y2="425.3"/>
<line class="tk" x1="470.2" y1="428.8" x2="475.2" y2="433.2"/>
<line class="tk" x1="470.2" y1="472.1" x2="475.2" y2="476.5"/>
<text class="n" x="377.3" y="34.06" font-size="12" text-anchor="middle">8555</text>
<text class="n" x="276.1" y="51.96" font-size="12" text-anchor="middle">3545</text>
<text class="n" x="372.4" y="51.96" font-size="12" text-anchor="middle">1015</text>
<text class="n" x="404" y="51.96" font-size="12" text-anchor="middle">550</text>
<text class="n" x="429" y="51.96" font-size="12" text-anchor="middle">725</text>
<text class="n" x="499.6" y="51.96" font-size="12" text-anchor="middle">2455</text>
<text class="n" x="168.1" y="503.86" font-size="12" text-anchor="middle">1160</text>
<text class="n" x="376.9" y="503.56" font-size="12" text-anchor="middle">8555</text>
<text class="n" x="347" y="520.66" font-size="12" text-anchor="middle">10055</text>
<text class="n" x="94.3" y="111.96" font-size="12" text-anchor="middle" transform="rotate(-90 94.3 108)">670</text>
<text class="n" x="94.3" y="154.96" font-size="12" text-anchor="middle" transform="rotate(-90 94.3 151)">1440</text>
<text class="n" x="94.3" y="196.96" font-size="12" text-anchor="middle" transform="rotate(-90 94.3 193)">650</text>
<text class="n" x="94.3" y="232.71" font-size="12" text-anchor="middle" transform="rotate(-90 94.3 228.75)">625</text>
<text class="n" x="94.3" y="274.46" font-size="12" text-anchor="middle" transform="rotate(-90 94.3 270.5)">1445</text>
<text class="n" x="94.3" y="315.96" font-size="12" text-anchor="middle" transform="rotate(-90 94.3 312)">610</text>
<text class="n" x="94.3" y="405.96" font-size="12" text-anchor="middle" transform="rotate(-90 94.3 402)">3290</text>
<text class="n" x="94.3" y="473.96" font-size="12" text-anchor="middle" transform="rotate(-90 94.3 470)">110</text>
<text class="n" x="75.3" y="287.96" font-size="12" text-anchor="middle" transform="rotate(-90 75.3 284)">9335</text>
<text class="n" x="613.6" y="112.96" font-size="12" text-anchor="middle" transform="rotate(-90 613.6 109)">665</text>
<text class="n" x="613.6" y="154.96" font-size="12" text-anchor="middle" transform="rotate(-90 613.6 151)">1445</text>
<text class="n" x="613.6" y="196.46" font-size="12" text-anchor="middle" transform="rotate(-90 613.6 192.5)">635</text>
<text class="n" x="613.6" y="231.96" font-size="12" text-anchor="middle" transform="rotate(-90 613.6 228)">500</text>
<text class="n" x="613.6" y="252.76" font-size="12" text-anchor="middle" transform="rotate(-90 613.6 248.8)">555</text>
<text class="n" x="613.6" y="274.46" font-size="12" text-anchor="middle" transform="rotate(-90 613.6 270.5)">500</text>
<text class="n" x="613.6" y="305.66" font-size="12" text-anchor="middle" transform="rotate(-90 613.6 301.7)">565</text>
<text class="n" x="613.6" y="327.46" font-size="12" text-anchor="middle" transform="rotate(-90 613.6 323.5)">550</text>
<text class="n" x="613.6" y="349.96" font-size="12" text-anchor="middle" transform="rotate(-90 613.6 346)">550</text>
<text class="n" x="613.6" y="369.56" font-size="12" text-anchor="middle" transform="rotate(-90 613.6 365.6)">15</text>
<text class="n" x="613.6" y="386.16" font-size="12" text-anchor="middle" transform="rotate(-90 613.6 382.2)">540</text>
<text class="n" x="613.6" y="417.96" font-size="12" text-anchor="middle" transform="rotate(-90 613.6 414)">1070</text>
<text class="n" x="613.6" y="459.66" font-size="12" text-anchor="middle" transform="rotate(-90 613.6 455.7)">940</text>
<text class="n" x="632.8" y="288.56" font-size="12" text-anchor="middle" transform="rotate(-90 632.8 284.6)">9350</text>
<text class="n" x="217.5" y="104.76" font-size="10.8" text-anchor="middle">500</text>
<text class="n" x="240.6" y="139.06" font-size="10.8" text-anchor="middle" transform="rotate(-90 240.6 135.5)">2000</text>
<text class="n" x="264.5" y="166.86" font-size="10.8" text-anchor="middle">1810</text>
<text class="c" x="267.1" y="192.46" font-size="11" text-anchor="middle" transform="translate(267.1 188.5) scale(0.675 1) translate(-267.1 -188.5)">主卧</text>
<text class="n" x="335.8" y="137.06" font-size="10.8" text-anchor="middle" transform="rotate(-90 335.8 133.5)">1905</text>
<text class="n" x="335" y="156.16" font-size="10.8" text-anchor="middle">600</text>
<text class="n" x="362.2" y="89.76" font-size="10.8" text-anchor="middle">500</text>
<text class="n" x="384.8" y="105.56" font-size="12" text-anchor="middle" transform="rotate(-90 384.8 101.6)">345</text>
<text class="c" x="363.9" y="127.9" font-size="8.6" text-anchor="middle" transform="translate(363.9 124.8) scale(0.7 1) translate(-363.9 -124.8)">主卫</text>
<text class="n" x="410.9" y="129.36" font-size="10.8" text-anchor="middle">520</text>
<text class="n" x="387.8" y="153.96" font-size="10.8" text-anchor="middle" transform="rotate(-90 387.8 150.4)">800</text>
<text class="n" x="434.5" y="151.29" font-size="11.5" text-anchor="middle" transform="rotate(-90 434.5 147.5)">1125</text>
<text class="n" x="437.9" y="180.56" font-size="12" text-anchor="middle">600</text>
<text class="n" x="506.5" y="106.56" font-size="10.8" text-anchor="middle">2000</text>
<text class="n" x="482.6" y="120.06" font-size="10.8" text-anchor="middle" transform="rotate(-90 482.6 116.5)">1000</text>
<text class="c" x="480.7" y="156.86" font-size="11" text-anchor="middle" transform="translate(480.7 152.9) scale(0.69 1) translate(-480.7 -152.9)">北次卧</text>
<text class="n" x="535" y="173.93" font-size="11.3" text-anchor="middle" transform="rotate(-90 535 170.2)">1200</text>
<text class="n" x="519" y="195.7" font-size="11.2" text-anchor="middle">1500</text>
<text class="n" x="473.6" y="204.16" font-size="11.7" text-anchor="middle" transform="rotate(-90 473.6 200.3)">300</text>
<text class="n" x="263" y="230.86" font-size="10.8" text-anchor="middle" transform="rotate(-90 263 227.3)">550</text>
<text class="n" x="263.2" y="284.96" font-size="10.5" text-anchor="middle" transform="rotate(-90 263.2 281.5)">2130</text>
<text class="n" x="312.3" y="244.86" font-size="10.8" text-anchor="middle">1745</text>
<text class="n" x="241.2" y="259.06" font-size="10.8" text-anchor="middle">1800</text>
<text class="c" x="306.5" y="286.36" font-size="11" text-anchor="middle" transform="translate(306.5 282.4) scale(0.69 1) translate(-306.5 -282.4)">南次卧</text>
<text class="n" x="227.8" y="344.1" font-size="11.5" text-anchor="middle" transform="rotate(-90 227.8 340.3)">300</text>
<text class="n" x="239" y="365.16" font-size="10.8" text-anchor="middle">1700</text>
<text class="n" x="305.8" y="365.16" font-size="10.8" text-anchor="middle">1600</text>
<text class="n" x="347" y="365.16" font-size="10.8" text-anchor="middle">475</text>
<text class="c2" x="329.9" y="376.92" font-size="8.1" text-anchor="middle">无电视背景墙</text>
<text class="c" x="248.8" y="391.16" font-size="11" text-anchor="middle" transform="translate(248.8 387.2) scale(0.68 1) translate(-248.8 -387.2)">客厅</text>
<text class="n" x="308.2" y="391.16" font-size="10.8" text-anchor="middle">1180</text>
<text class="n" x="273.2" y="412.36" font-size="10.8" text-anchor="middle" transform="rotate(-90 273.2 408.8)">600</text>
<text class="n" x="230.5" y="444.56" font-size="10.8" text-anchor="middle">1100</text>
<text class="n" x="175.5" y="454.06" font-size="10.8" text-anchor="middle">1020</text>
<text class="n" x="158.6" y="472.19" font-size="11.5" text-anchor="middle" transform="rotate(-90 158.6 468.4)">310</text>
<text class="n" x="306" y="451.06" font-size="10.8" text-anchor="middle">2497</text>
<text class="c" x="379.4" y="278.61" font-size="7.8" text-anchor="middle" transform="translate(379.4 275.8) scale(0.7 1) translate(-379.4 -275.8)">走廊</text>
<text class="n" x="424.7" y="248.06" font-size="10.8" text-anchor="middle">970</text>
<text class="n" x="406.8" y="272.23" font-size="11.3" text-anchor="middle" transform="rotate(-90 406.8 268.5)">595</text>
<text class="n" x="461.3" y="252.16" font-size="10.8" text-anchor="middle">600</text>
<text class="c" x="487.4" y="247.12" font-size="9.5" text-anchor="middle" transform="translate(487.4 243.7) scale(0.63 1) translate(-487.4 -243.7)">客卫</text>
<text class="n" x="491" y="278.26" font-size="10.8" text-anchor="middle" transform="rotate(-90 491 274.7)">350</text>
<text class="n" x="520.5" y="262.26" font-size="10.8" text-anchor="middle">1440</text>
<text class="n" x="497.5" y="299.76" font-size="10.8" text-anchor="middle">2560</text>
<text class="n" x="438" y="342.36" font-size="12" text-anchor="middle" transform="rotate(-90 438 338.4)">830</text>
<text class="c" x="486.6" y="334.99" font-size="8.3" text-anchor="middle" transform="translate(486.6 332) scale(0.7 1) translate(-486.6 -332)">厨房</text>
<text class="n" x="410.2" y="314.36" font-size="10.8" text-anchor="middle">495</text>
<text class="n" x="388.3" y="327.56" font-size="10.8" text-anchor="middle" transform="rotate(-90 388.3 324)">1875</text>
<text class="n" x="533.8" y="332.13" font-size="11.3" text-anchor="middle" transform="rotate(-90 533.8 328.4)">650</text>
<text class="n" x="517" y="337.9" font-size="10.3" text-anchor="middle" transform="rotate(-90 517 334.5)">1110</text>
<text class="n" x="520.5" y="394.2" font-size="10.3" text-anchor="middle" transform="rotate(-90 520.5 390.8)">1200</text>
<text class="cb" x="541.6" y="394.22" font-size="9.5" text-anchor="middle" transform="rotate(-90 541.6 390.8) translate(541.6 390.8) scale(0.66 1) translate(-541.6 -390.8)">鞋柜</text>
<text class="n" x="535" y="458.56" font-size="10.8" text-anchor="middle">350</text>
<text class="c" x="419.7" y="402.18" font-size="10.5" text-anchor="middle" transform="translate(419.7 398.4) scale(0.69 1) translate(-419.7 -398.4)">餐厅</text>
<text class="n" x="422" y="413.36" font-size="10.8" text-anchor="middle">800</text>
<text class="n" x="383" y="451.56" font-size="10.8" text-anchor="middle" transform="rotate(-90 383 448)">1280</text>
<text class="n" x="489.5" y="426.86" font-size="10.8" text-anchor="middle">330</text>
<text class="n" x="468.7" y="456.56" font-size="10.8" text-anchor="middle" transform="rotate(-90 468.7 453)">1050</text>
</svg>
</body></html>
